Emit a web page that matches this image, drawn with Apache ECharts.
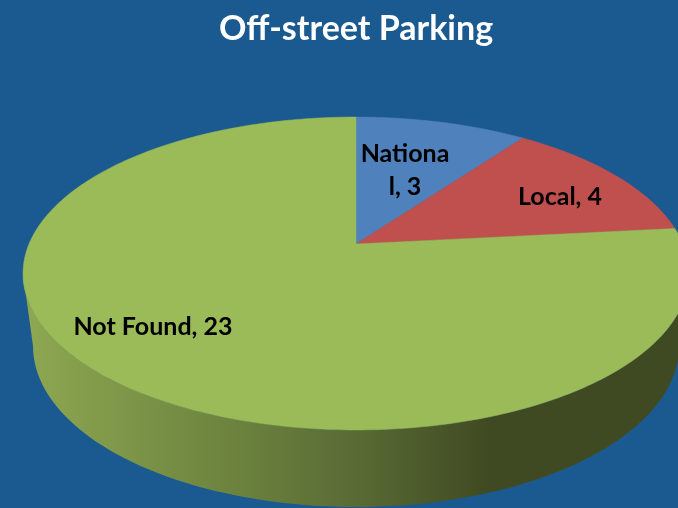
<!DOCTYPE html>
<html>
<head>
<meta charset="utf-8">
<style>
html, body { margin: 0; padding: 0; background: #1a5a90; }
#chart { width: 678px; height: 508px; }
</style>
<script src="https://cdn.jsdelivr.net/npm/echarts@6/dist/echarts.min.js"></script>
</head>
<body>
<div id="chart"></div>
<script>
var categories = ['National', 'Local', 'Not Found'];
var counts = [3, 4, 23];
var sliceColors = ['#4f81bd', '#c0504d', '#9bbb59'];

// where the labels sit and how wide before they wrap, same order as categories
var labelCenters = [[405, 170], [560, 197], [153, 327]];
var labelWidths = [92, 200, 220];

var chart = echarts.init(document.getElementById('chart'));

// perspective of the pie top, fitted to the picture
var apexX = 356, apexY = 244;
var scaleX = 327, scaleY = 150.9, tilt = 0.1884;

var total = counts.reduce(function (a, b) { return a + b; }, 0);

function rimPoint(angle) {
    var u = Math.sin(angle), v = Math.cos(angle);
    var d = 1 + tilt * v;
    return [apexX + scaleX * u / d, apexY - scaleY * v / d];
}

function renderSlice(params, api) {
    var i = params.dataIndex;
    var before = 0;
    for (var k = 0; k < i; k++) before += counts[k];
    var from = before / total * Math.PI * 2;
    var to = (before + api.value(1)) / total * Math.PI * 2;
    var points = [[apexX, apexY]];
    var steps = Math.ceil((to - from) * 60);
    for (var s = 0; s <= steps; s++) {
        points.push(rimPoint(from + (to - from) * s / steps));
    }
    return {
        type: 'polygon',
        shape: { points: points },
        style: { fill: sliceColors[i], stroke: sliceColors[i], lineWidth: 0.5 }
    };
}

function renderWall() {
    var points = [];
    var t;
    // front half of the top rim, left to right
    for (t = 0; t <= 180; t += 2) {
        var a = (180 - t) * Math.PI / 180;
        points.push([356 + 333 * Math.cos(a), 273.5 + 156.5 * Math.sin(a)]);
    }
    // bottom rim back again
    for (t = 180; t >= 0; t -= 2) {
        var b = (180 - t) * Math.PI / 180;
        points.push([356 + 323 * Math.cos(b), 346 + 161 * Math.sin(b)]);
    }
    return {
        type: 'polygon',
        shape: { points: points },
        style: {
            fill: new echarts.graphic.LinearGradient(23, 0, 678, 0, [
                { offset: 0, color: '#8ea852' },
                { offset: 0.3, color: '#6e853f' },
                { offset: 0.5, color: '#5a6c35' },
                { offset: 0.71, color: '#404a22' },
                { offset: 1, color: '#404a22' }
            ], true)
        }
    };
}

function renderLabel(params, api) {
    var i = params.dataIndex;
    return {
        type: 'text',
        x: labelCenters[i][0],
        y: labelCenters[i][1],
        style: {
            text: categories[i] + ', ' + api.value(1),
            width: labelWidths[i],
            overflow: 'breakAll',
            fill: '#000',
            font: '700 25px Lato',
            lineHeight: 33,
            align: 'center',
            verticalAlign: 'middle'
        }
    };
}

var tableData = categories.map(function (name, i) { return [name, counts[i]]; });

chart.setOption({
    animation: false,
    backgroundColor: '#1a5a90',
    title: {
        text: 'Off-street Parking',
        left: 351,
        top: 7,
        textAlign: 'center',
        textStyle: { color: '#fff', fontFamily: 'Lato', fontWeight: 700, fontSize: 34 }
    },
    series: [
        { type: 'custom', coordinateSystem: 'none', silent: true, data: [[0]], renderItem: renderWall },
        { type: 'custom', coordinateSystem: 'none', data: tableData, renderItem: renderSlice },
        { type: 'custom', coordinateSystem: 'none', silent: true, data: tableData, renderItem: renderLabel }
    ]
});
</script>
</body>
</html>
